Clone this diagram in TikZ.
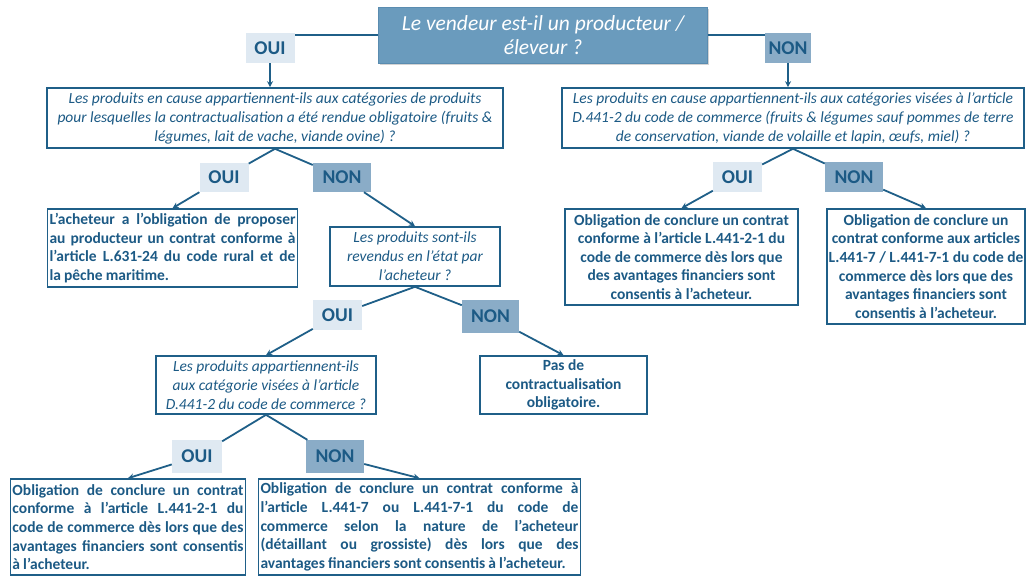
\documentclass[tikz,border=0pt]{standalone}
\usepackage{fontspec}
\setmainfont{Carlito}
\usetikzlibrary{arrows.meta,shadows}
\definecolor{bdr}{HTML}{1F5F88}
\definecolor{txt}{HTML}{1C5A85}
\definecolor{titlefill}{HTML}{6A9BBD}
\definecolor{titlebdr}{HTML}{5A8CB0}
\definecolor{ouifill}{HTML}{DFE9F2}
\definecolor{nonfill}{HTML}{8AACC7}
\begin{document}
\begin{tikzpicture}[x=1pt,y=-1pt,
  titlebox/.style={draw=titlebdr, line width=1pt, fill=titlefill, text=white,
    font=\itshape\fontsize{21.5}{24}\selectfont, align=center, inner sep=1pt,
    drop shadow={shadow xshift=1pt, shadow yshift=-2pt, opacity=0.35}},
  qbox/.style={draw=bdr, line width=1.6pt, fill=white, text=txt,
    font=\itshape\fontsize{15.5}{19}\selectfont, align=center, inner sep=1pt},
  abox/.style={draw=bdr, line width=1.6pt, fill=white, text=txt,
    font=\bfseries\fontsize{15.5}{18.6}\selectfont, align=center, inner sep=1pt},
  jbox/.style={abox, align=justify, inner sep=2pt,
    execute at begin node={\spaceskip=0.2em plus 1em minus 0.05em\relax}},
  ouilab/.style={fill=ouifill, text=txt, font=\bfseries\fontsize{19.5}{21}\selectfont,
    inner sep=0pt, minimum width=49pt, minimum height=30pt},
  nonlab/.style={ouilab, fill=nonfill, minimum width=58pt},
  conn/.style={draw=bdr, line width=1.8pt},
  arr/.style={conn, -{Stealth[length=6pt,width=6pt]}}]
\useasboundingbox (0,0) rectangle (1028,576);

% title and top labels
\node[titlebox, minimum width=329pt, minimum height=56pt] (title) at (543,35)
  {Le vendeur est-il un producteur /\\ éleveur ?};
\node[ouilab] (oui1) at (270,48) {OUI};
\node[nonlab, minimum width=46pt] (non1) at (788,48) {NON};

% first questions
\node[qbox, minimum width=456pt, minimum height=60pt] (q1) at (275,118)
  {Les produits en cause appartiennent-ils aux catégories de produits\\
   pour lesquelles la contractualisation a été rendue obligatoire (fruits \&\\
   légumes, lait de vache, viande ovine) ?};
\node[qbox, minimum width=462pt, minimum height=60pt] (q2) at (793,118)
  {Les produits en cause appartiennent-ils aux catégories visées à l’article\\
   D.441-2 du code de commerce (fruits \& légumes sauf pommes de terre\\
   de conservation, viande de volaille et lapin, œufs, miel) ?};

% second level labels
\node[ouilab, minimum height=29pt] (oui2) at (224,177.5) {OUI};
\node[nonlab, minimum height=29pt] (non2) at (342,177.5) {NON};
\node[ouilab] (oui3) at (737.5,177) {OUI};
\node[nonlab] (non3) at (854,177) {NON};

% second level boxes
\node[jbox, text width=246pt, minimum height=78pt] (boxa) at (172.5,248)
  {L’acheteur a l’obligation de proposer\linebreak
   au producteur un contrat conforme à\linebreak
   l’article L.631-24 du code rural et de\linebreak
   la pêche maritime.};
\node[qbox, minimum width=170pt, minimum height=59pt] (q3) at (415,256.5)
  {Les produits sont-ils\\ revendus en l’état par\\ l’acheteur ?};
\node[abox, minimum width=233pt, minimum height=96pt] (boxb) at (681.5,257)
  {Obligation de conclure un contrat\\
   conforme à l’article L.441-2-1 du\\
   code de commerce dès lors que\\
   des avantages financiers sont\\
   consentis à l’acheteur.};
\node[abox, minimum width=198pt, minimum height=115pt, inner sep=0pt] (boxc) at (926,266.5)
  {Obligation de conclure un\\
   contrat conforme aux articles\\
   L.441-7 / L.441-7-1 du code de\\
   commerce dès lors que des\\
   avantages financiers sont\\
   consentis à l’acheteur.};

% third level
\node[ouilab] (oui4) at (337.5,315) {OUI};
\node[nonlab, minimum width=57pt, minimum height=33pt] (non4) at (490.5,316.5) {NON};
\node[qbox, minimum width=220pt, minimum height=58pt] (q4) at (266,385)
  {Les produits appartiennent-ils\\
   aux catégorie visées à l’article\\
   D.441-2 du code de commerce ?};
\node[abox, minimum width=167pt, minimum height=58pt] (boxd) at (563.5,385)
  {Pas de\\ contractualisation\\ obligatoire.};

% fourth level
\node[ouilab, minimum width=50pt, minimum height=33pt] (oui5) at (197,456.5) {OUI};
\node[nonlab, minimum height=33pt] (non5) at (335,456.5) {NON};
\node[jbox, text width=231pt, minimum height=96pt] (boxe) at (128,527)
  {Obligation de conclure un contrat\linebreak
   conforme à l’article L.441-2-1 du\linebreak
   code de commerce dès lors que des\linebreak
   avantages financiers sont consentis\linebreak
   à l’acheteur.};
\node[jbox, text width=318pt, minimum height=96pt] (boxf) at (419.5,527)
  {Obligation de conclure un contrat conforme à\linebreak
   l’article L.441-7 ou L.441-7-1 du code de\linebreak
   commerce selon la nature de l’acheteur\linebreak
   (détaillant ou grossiste) dès lors que des\linebreak
   avantages financiers sont consentis à l’acheteur.};

% connectors
\draw[conn] (title.west) -- (title.west -| oui1.east);
\draw[conn] (title.east) -- (title.east -| non1.west);
\draw[arr] (oui1.south) -- (oui1.south |- q1.north);
\draw[arr] (non1.south) -- (non1.south |- q2.north);

\draw[conn] (q1.south) -- (oui2);
\draw[conn] (q1.south) -- (non2);
\draw[arr] (oui2) -- (boxa.north);
\draw[arr] (non2) -- (q3.north);

\draw[conn] (q2.south) -- (oui3);
\draw[conn] (q2.south) -- (non3);
\draw[arr] (oui3) -- (boxb.north);
\draw[arr] (non3) -- (boxc.north);

\draw[conn] (q3.south) -- (oui4);
\draw[conn] (q3.south) -- (non4);
\draw[arr] (oui4) -- (q4.north);
\draw[arr] (non4) -- (boxd.north);

\draw[conn] (q4.south) -- (oui5);
\draw[conn] (q4.south) -- (non5);
\draw[arr] (oui5) -- (boxe.north);
\draw[arr] (non5) -- (boxf.north);
\end{tikzpicture}
\end{document}
